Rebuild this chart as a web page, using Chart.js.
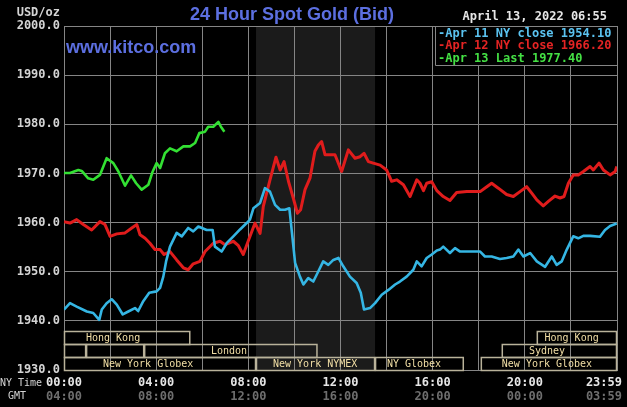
<!DOCTYPE html>
<html>
<head>
<meta charset="utf-8">
<script src="https://cdn.jsdelivr.net/npm/chart.js@4.4.1/dist/chart.umd.min.js"></script>
<style>
  html, body { margin: 0; padding: 0; background: #000; }
  canvas { display: block; }
</style>
</head>
<body>
<canvas id="chart-gold" width="627" height="407"></canvas>
<script>
// times are NY time in decimal hours, values in USD/oz
const blueHours = [0, 0.26, 0.55, 0.99, 1.27, 1.53, 1.64, 1.85, 2.07, 2.29, 2.55, 2.79, 3.08, 3.22, 3.44, 3.7, 4.02, 4.17, 4.31, 4.43, 4.6, 4.89, 5.11, 5.39, 5.61, 5.83, 6.19, 6.45, 6.55, 6.84, 7.06, 7.35, 7.64, 7.93, 8.07, 8.22, 8.51, 8.72, 8.94, 9.16, 9.38, 9.59, 9.78, 9.88, 10.03, 10.24, 10.39, 10.6, 10.82, 11.04, 11.25, 11.47, 11.69, 11.91, 12.12, 12.41, 12.7, 12.88, 13.02, 13.28, 13.5, 13.79, 14.08, 14.37, 14.58, 14.87, 15.16, 15.31, 15.52, 15.74, 15.96, 16.18, 16.32, 16.46, 16.75, 16.97, 17.19, 17.62, 18.06, 18.27, 18.56, 18.92, 19.21, 19.5, 19.72, 19.94, 20.23, 20.52, 20.88, 21.17, 21.38, 21.6, 21.82, 22.1, 22.32, 22.54, 22.83, 23.26, 23.48, 23.7, 23.99];
const blueValues = [1942.3, 1943.6, 1942.9, 1941.9, 1941.6, 1940.2, 1942.3, 1943.6, 1944.4, 1943.3, 1941.3, 1941.9, 1942.6, 1942.0, 1944.0, 1945.7, 1946.0, 1946.7, 1949.0, 1952.1, 1955.1, 1957.9, 1957.2, 1958.9, 1958.2, 1959.2, 1958.5, 1958.5, 1955.1, 1954.1, 1955.8, 1957.2, 1958.6, 1959.9, 1960.6, 1962.9, 1964.0, 1967.0, 1966.3, 1963.6, 1962.6, 1962.6, 1962.9, 1958.5, 1951.8, 1949.0, 1947.4, 1948.7, 1948.0, 1950.1, 1952.1, 1951.4, 1952.4, 1952.8, 1951.1, 1949.0, 1947.7, 1945.7, 1942.3, 1942.6, 1943.6, 1945.3, 1946.3, 1947.4, 1948.0, 1949.0, 1950.4, 1952.1, 1951.1, 1952.8, 1953.5, 1954.3, 1954.5, 1955.1, 1953.8, 1954.8, 1954.1, 1954.1, 1954.1, 1953.1, 1953.1, 1952.6, 1952.8, 1953.1, 1954.5, 1953.1, 1953.8, 1952.1, 1951.0, 1953.1, 1951.4, 1952.1, 1954.5, 1957.2, 1956.8, 1957.3, 1957.3, 1957.1, 1958.5, 1959.3, 1959.8];

const redHours = [0, 0.26, 0.55, 0.84, 1.2, 1.56, 1.78, 2.0, 2.29, 2.65, 2.94, 3.16, 3.3, 3.52, 3.73, 3.95, 4.17, 4.34, 4.6, 4.89, 5.18, 5.39, 5.61, 5.9, 6.12, 6.48, 6.77, 6.99, 7.35, 7.57, 7.78, 8.0, 8.29, 8.51, 8.65, 8.94, 9.2, 9.38, 9.55, 9.74, 9.95, 10.13, 10.27, 10.46, 10.68, 10.89, 11.04, 11.18, 11.33, 11.55, 11.76, 12.05, 12.34, 12.63, 12.85, 13.02, 13.21, 13.42, 13.72, 14.0, 14.22, 14.44, 14.73, 15.02, 15.31, 15.45, 15.6, 15.74, 15.96, 16.18, 16.46, 16.75, 17.04, 17.48, 18.06, 18.35, 18.56, 18.85, 19.21, 19.5, 19.79, 20.08, 20.3, 20.52, 20.8, 21.02, 21.31, 21.53, 21.7, 21.89, 22.1, 22.32, 22.54, 22.83, 22.97, 23.22, 23.41, 23.7, 23.92, 23.99];
const redValues = [1960.2, 1959.9, 1960.6, 1959.6, 1958.5, 1960.2, 1959.6, 1957.2, 1957.7, 1957.9, 1958.9, 1959.6, 1957.5, 1956.8, 1955.8, 1954.5, 1954.5, 1953.5, 1954.1, 1952.4, 1950.8, 1950.4, 1951.6, 1952.1, 1954.1, 1955.8, 1956.2, 1955.5, 1956.2, 1955.3, 1953.5, 1956.3, 1959.9, 1957.8, 1963.3, 1968.7, 1973.3, 1970.7, 1972.4, 1968.4, 1965.0, 1961.9, 1962.6, 1966.7, 1969.1, 1974.5, 1975.8, 1976.5, 1973.8, 1973.8, 1973.8, 1970.4, 1974.8, 1973.1, 1973.4, 1974.1, 1972.4, 1972.1, 1971.7, 1970.7, 1968.4, 1968.7, 1967.7, 1965.3, 1968.7, 1968.0, 1966.5, 1968.0, 1968.3, 1966.5, 1965.3, 1964.5, 1966.1, 1966.3, 1966.3, 1967.3, 1968.0, 1967.0, 1965.7, 1965.3, 1966.3, 1967.3, 1966.0, 1964.6, 1963.4, 1964.3, 1965.4, 1965.0, 1965.3, 1968.0, 1969.7, 1969.7, 1970.4, 1971.4, 1970.7, 1972.1, 1970.7, 1969.7, 1970.4, 1971.4];

const greenHours = [0, 0.26, 0.62, 0.77, 1.05, 1.27, 1.56, 1.85, 2.14, 2.36, 2.65, 2.91, 3.13, 3.37, 3.66, 3.85, 4.02, 4.17, 4.38, 4.6, 4.89, 5.18, 5.47, 5.69, 5.87, 6.12, 6.26, 6.48, 6.7, 6.81, 6.96];
const greenValues = [1970.1, 1970.1, 1970.7, 1970.5, 1969.0, 1968.7, 1969.7, 1973.1, 1972.1, 1970.4, 1967.5, 1969.6, 1968.0, 1966.7, 1967.7, 1970.4, 1972.1, 1971.1, 1974.1, 1975.1, 1974.5, 1975.5, 1975.5, 1976.2, 1978.2, 1978.5, 1979.5, 1979.5, 1980.5, 1979.5, 1978.5];

const tickHours = [0, 4, 8, 12, 16, 20, 24];
const nyTickLabels = ['00:00', '04:00', '08:00', '12:00', '16:00', '20:00', '23:59'];
const gmtTickLabels = ['04:00', '08:00', '12:00', '16:00', '20:00', '00:00', '03:59'];

const legendLabels = ['-Apr 11 NY close 1954.10', '-Apr 12 NY close 1966.20', '-Apr 13 Last 1977.40'];
const legendColors = ['#5bc3f0', '#e42424', '#44e044'];

// NYMEX open (shaded band)
const nymexOpen = 8.333;
const nymexClose = 13.5;

// trading sessions strip at the bottom
const sessionRow = [0, 0, 1, 1, 1, 1, 2, 2, 2, 2];
const sessionStart = [0, 20.52, 0, 0.96, 3.48, 19.0, 0, 8.333, 13.5, 18.09];
const sessionEnd = [5.48, 24, 0.96, 3.48, 11.0, 24, 8.333, 13.5, 17.35, 24];
const sessionLabel = ['Hong Kong', 'Hong Kong', '', '', 'London', 'Sydney', 'New York Globex', 'New York NYMEX', 'NY Globex', 'New York Globex'];
const sessionLabelAt = [2.13, 22.03, 0, 0, 7.16, 20.96, 3.65, 10.9, 15.19, 20.96];

const GRID = '#858585';
const MONO = '"DejaVu Sans Mono", "Liberation Mono", monospace';
const toPoints = (hours, values) => hours.map((h, i) => ({ x: h, y: values[i] }));

const kitcoDecor = {
  id: 'kitcoDecor',
  beforeDraw(chart) {
    const { ctx, chartArea: a, scales: { x } } = chart;
    ctx.save();
    ctx.fillStyle = '#000';
    ctx.fillRect(0, 0, chart.width, chart.height);
    ctx.fillStyle = '#1b1b1b';
    const x0 = x.getPixelForValue(nymexOpen), x1 = x.getPixelForValue(nymexClose);
    ctx.fillRect(x0, a.top, x1 - x0, a.bottom - a.top);
    ctx.restore();
  },
  beforeDatasetsDraw(chart) {
    // legend box masks the grid in the top right corner
    const { ctx, chartArea: a } = chart;
    ctx.save();
    ctx.fillStyle = '#000';
    ctx.fillRect(435, a.top + 1, a.right - 435 - 1, 39);
    ctx.strokeStyle = GRID;
    ctx.lineWidth = 1;
    ctx.beginPath();
    ctx.moveTo(435.5, a.top);
    ctx.lineTo(435.5, a.top + 39.5);
    ctx.lineTo(a.right, a.top + 39.5);
    ctx.stroke();
    ctx.font = 'bold 12px ' + MONO;
    ctx.textBaseline = 'middle';
    ctx.textAlign = 'left';
    legendLabels.forEach((t, i) => {
      ctx.fillStyle = legendColors[i];
      ctx.fillText(t, 438, a.top + 7.5 + i * 12.8);
    });
    ctx.restore();
  },
  afterDraw(chart) {
    const { ctx, chartArea: a, scales: { x } } = chart;
    ctx.save();

    // session boxes
    const rowH = 13;
    const rowTop = a.bottom - 3 * rowH;
    ctx.strokeStyle = '#b9b29a';
    ctx.lineWidth = 1.5;
    ctx.font = '10px ' + MONO;
    ctx.textAlign = 'center';
    ctx.textBaseline = 'middle';
    sessionRow.forEach((r, i) => {
      const sx = x.getPixelForValue(sessionStart[i]);
      const ex = x.getPixelForValue(sessionEnd[i]);
      const ty = rowTop + r * rowH;
      ctx.strokeRect(sx + 0.5, ty + 0.5, ex - sx - 1, rowH);
      if (sessionLabel[i]) {
        ctx.fillStyle = '#f2dfa6';
        ctx.fillText(sessionLabel[i], x.getPixelForValue(sessionLabelAt[i]), ty + rowH / 2 + 1);
      }
    });

    // title and site
    ctx.fillStyle = '#5c6fe0';
    ctx.font = 'bold 18px "Liberation Sans", Arial, sans-serif';
    ctx.textAlign = 'center';
    ctx.fillText('24 Hour Spot Gold (Bid)', 292, 15);
    ctx.textAlign = 'left';
    ctx.fillText('www.kitco.com', 66, 48);

    ctx.fillStyle = '#e6e6e6';
    ctx.font = 'bold 12px ' + MONO;
    ctx.textAlign = 'right';
    ctx.fillText('April 13, 2022 06:55', 607, 17);
    ctx.fillStyle = '#d4d4d4';
    ctx.fillText('USD/oz', 60, 13);

    // time axis, NY and GMT rows
    ctx.font = '10px ' + MONO;
    ctx.textAlign = 'left';
    ctx.fillStyle = '#d4d4d4';
    ctx.fillText('NY Time', 0, 383);
    ctx.fillText('GMT', 8, 396);
    ctx.font = 'bold 12px ' + MONO;
    ctx.textAlign = 'center';
    tickHours.forEach((h, i) => {
      const w = ctx.measureText(nyTickLabels[i]).width;
      const px = Math.min(x.getPixelForValue(h), chart.width - 5 - w / 2);
      ctx.fillStyle = '#e6e6e6';
      ctx.fillText(nyTickLabels[i], px, 383);
      ctx.fillStyle = '#6e6e6e';
      ctx.fillText(gmtTickLabels[i], px, 397);
    });
    ctx.restore();
  }
};

new Chart(document.getElementById('chart-gold'), {
  type: 'line',
  data: {
    datasets: [
      { label: 'Apr 11', data: toPoints(blueHours, blueValues), borderColor: '#35b6e4', borderWidth: 2.6 },
      { label: 'Apr 12', data: toPoints(redHours, redValues), borderColor: '#e01c1c', borderWidth: 3 },
      { label: 'Apr 13', data: toPoints(greenHours, greenValues), borderColor: '#33e033', borderWidth: 2.6 }
    ]
  },
  options: {
    responsive: false,
    devicePixelRatio: 1,
    animation: false,
    layout: { padding: { top: 26, right: 10, left: 0, bottom: 0 } },
    elements: { point: { radius: 0 }, line: { tension: 0, borderJoinStyle: 'round' } },
    plugins: { legend: { display: false }, tooltip: { enabled: false } },
    scales: {
      x: {
        type: 'linear',
        min: 0,
        max: 24,
        ticks: { stepSize: 2, display: false },
        grid: { color: GRID, drawTicks: false },
        border: { color: GRID },
        afterFit: (s) => { s.height = 37; }
      },
      y: {
        min: 1930,
        max: 2000,
        ticks: {
          stepSize: 10,
          padding: 4,
          color: '#d4d4d4',
          font: { family: MONO, size: 12, weight: 'bold' },
          callback: (v) => v.toFixed(1)
        },
        grid: { color: GRID, drawTicks: false },
        border: { color: GRID },
        afterFit: (s) => { s.width = 64; }
      }
    }
  },
  plugins: [kitcoDecor]
});
</script>
</body>
</html>
